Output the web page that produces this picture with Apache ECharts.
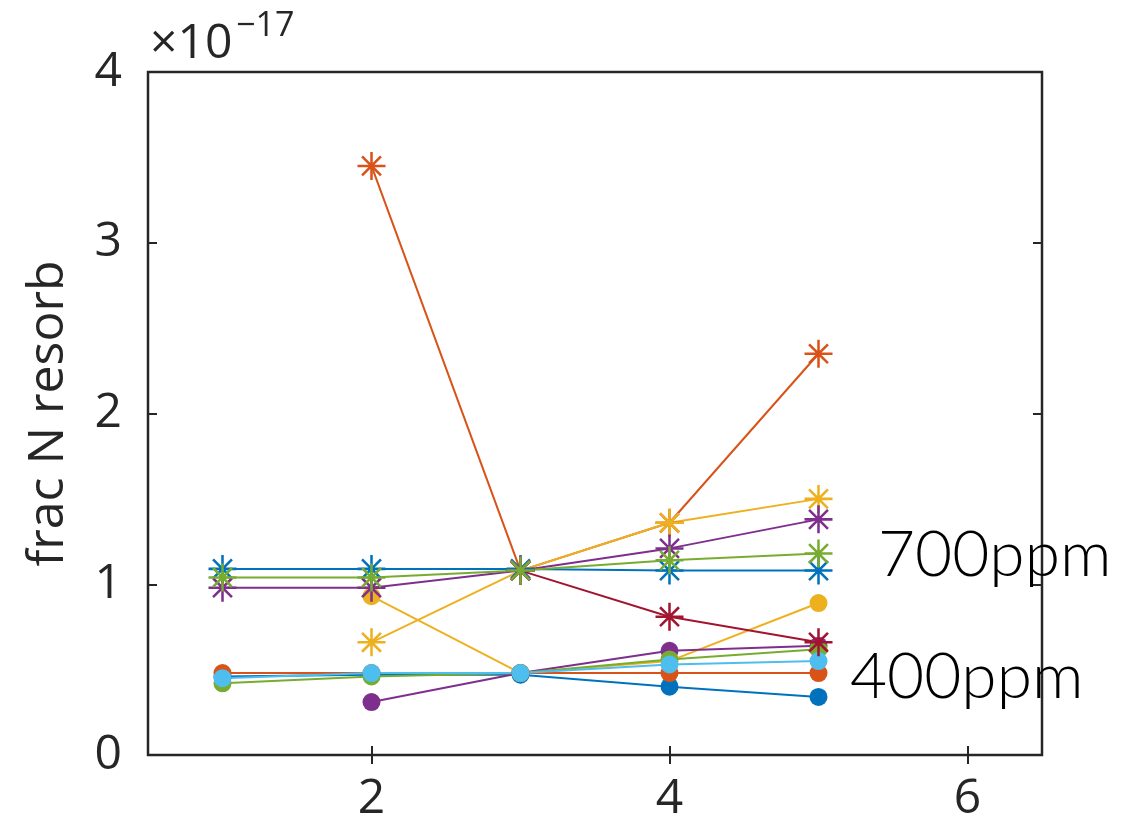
<!DOCTYPE html>
<html>
<head>
<meta charset="utf-8">
<script src="https://cdn.jsdelivr.net/npm/echarts@6/dist/echarts.min.js"></script>
<style>
  html, body { margin: 0; padding: 0; background: #fff; }
  #chart { width: 1138px; height: 828px; }
</style>
</head>
<body>
<div id="chart"></div>
<script>
// x positions shared by every series
const xValues = [1, 2, 3, 4, 5];

// 700 ppm runs (asterisk markers), values in units of 1e-17
const star_blue    = [1.09, 1.09, 1.09, 1.08, 1.08];
const star_orange  = [null, 3.45, 1.08, 1.36, 2.35];
const star_yellow  = [null, 0.66, 1.08, 1.36, 1.50];
const star_purple  = [0.98, 0.98, 1.08, 1.21, 1.38];
const star_green   = [1.04, 1.04, 1.08, 1.14, 1.18];
const star_darkred = [null, null, 1.08, 0.81, 0.66];

// 400 ppm runs (filled circle markers)
const dot_blue      = [0.46, 0.47, 0.47, 0.40, 0.34];
const dot_orange    = [0.48, 0.48, 0.48, 0.48, 0.48];
const dot_yellow    = [null, 0.93, 0.48, 0.55, 0.89];
const dot_purple    = [null, 0.31, 0.48, 0.61, 0.64];
const dot_green     = [0.42, 0.46, 0.48, 0.56, 0.62];
const dot_lightblue = [0.45, 0.48, 0.48, 0.53, 0.55];

const yTicks = [0, 1, 2, 3, 4];
const xTicks = [2, 4, 6];

const C = {
  blue: '#0072BD', orange: '#D95319', yellow: '#EDB120', purple: '#7E2F8E',
  green: '#77AC30', lightblue: '#4DBEEE', darkred: '#A2142F'
};
const INK = '#262626';

// asterisk glyph: horizontal, vertical and two diagonal bars
const STAR = 'path://M0 9.1L20 9.1L20 10.9L0 10.9Z M9.1 0L10.9 0L10.9 20L9.1 20Z ' +
  'M2.6 3.9L3.9 2.6L17.4 16.1L16.1 17.4Z M16.1 2.6L17.4 3.9L3.9 17.4L2.6 16.1Z';

function pairs(vals) { return xValues.map((x, i) => [x, vals[i]]); }

function line(vals, color, isStar) {
  return {
    type: 'line',
    data: pairs(vals),
    connectNulls: false,
    symbol: isStar ? STAR : 'circle',
    symbolSize: isStar ? 28 : 18,
    showAllSymbol: true,
    lineStyle: { color: color, width: 2 },
    itemStyle: { color: color, borderWidth: 0 },
    emphasis: { disabled: true },
    animation: false
  };
}

const series = [
  line(dot_blue, C.blue, false),
  line(dot_orange, C.orange, false),
  line(dot_yellow, C.yellow, false),
  line(dot_purple, C.purple, false),
  line(dot_green, C.green, false),
  line(dot_lightblue, C.lightblue, false),
  line(star_blue, C.blue, true),
  line(star_orange, C.orange, true),
  line(star_yellow, C.yellow, true),
  line(star_darkred, C.darkred, true),
  line(star_purple, C.purple, true),
  line(star_green, C.green, true)
];

const AXFONT = '"Open Sans", "Noto Sans", "DejaVu Sans", sans-serif';
const TAGFONT = 'Lato, "Open Sans", sans-serif';

const chart = echarts.init(document.getElementById('chart'));
chart.setOption({
  backgroundColor: '#fff',
  animation: false,
  grid: { left: 148, right: 96, top: 72, bottom: 73, containLabel: false,
          show: true, borderColor: INK, borderWidth: 2.5 },
  xAxis: [{
    type: 'value', min: 0.5, max: 6.5,
    splitLine: { show: false },
    axisLine: { show: false },
    axisTick: { show: true, inside: true, length: 9, customValues: xTicks,
                lineStyle: { color: INK, width: 2 } },
    axisLabel: { customValues: xTicks, color: INK, fontSize: 48, margin: 20,
                 fontFamily: AXFONT }
  }, {
    type: 'value', min: 0.5, max: 6.5, position: 'top',
    splitLine: { show: false },
    axisLine: { show: false },
    axisTick: { show: true, inside: true, length: 9, customValues: xTicks,
                lineStyle: { color: INK, width: 2 } },
    axisLabel: { show: false }
  }],
  yAxis: [{
    type: 'value', min: 0, max: 4, interval: 1,
    splitLine: { show: false },
    axisLine: { show: false },
    axisTick: { show: true, inside: true, length: 9, customValues: yTicks,
                lineStyle: { color: INK, width: 2 } },
    axisLabel: { customValues: yTicks, color: INK, fontSize: 48, margin: 26,
                 fontFamily: AXFONT },
    name: 'frac N resorb',
    nameLocation: 'middle',
    nameGap: 74,
    nameTextStyle: { color: INK, fontSize: 50, fontFamily: AXFONT }
  }, {
    type: 'value', min: 0, max: 4, interval: 1, position: 'right',
    splitLine: { show: false },
    axisLine: { show: false },
    axisTick: { show: true, inside: true, length: 9, customValues: yTicks,
                lineStyle: { color: INK, width: 2 } },
    axisLabel: { show: false }
  }],
  graphic: [
    { type: 'text', left: 150, top: 20,
      style: { text: '×10', fill: INK, fontSize: 48, fontFamily: AXFONT } },
    { type: 'text', left: 236, top: 9,
      style: { text: '−17', fill: INK, fontSize: 34, fontFamily: AXFONT } },
    { type: 'text', left: 878, top: 523,
      style: { text: '700ppm', fill: '#000', fontSize: 64, fontFamily: TAGFONT, fontWeight: 300 } },
    { type: 'text', left: 850, top: 645,
      style: { text: '400ppm', fill: '#000', fontSize: 64, fontFamily: TAGFONT, fontWeight: 300 } }
  ],
  series: series
});
</script>
</body>
</html>
